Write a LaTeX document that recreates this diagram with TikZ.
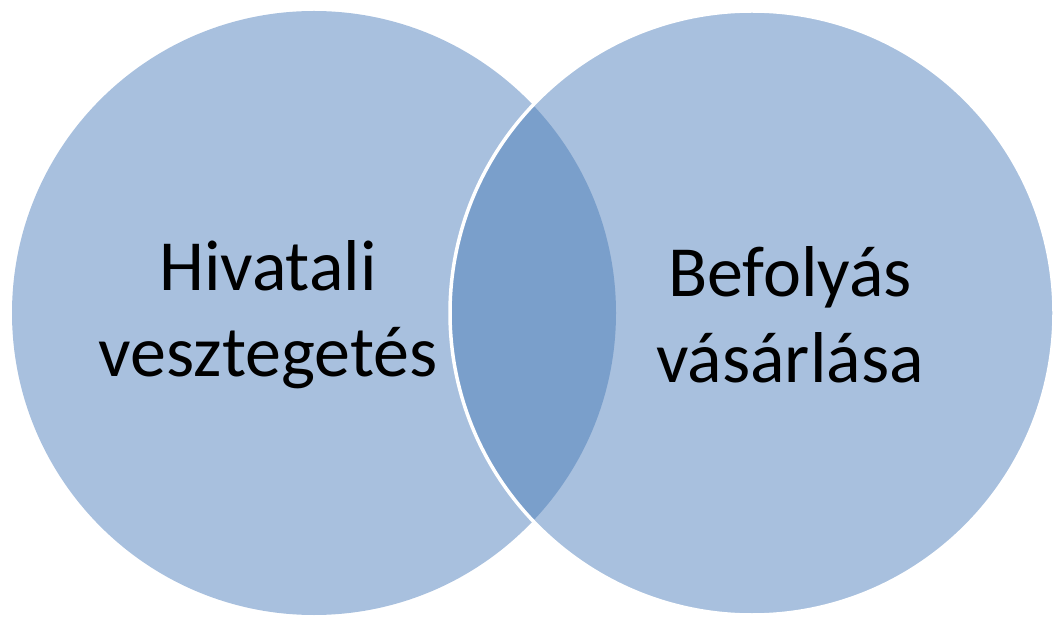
\documentclass[tikz,border=0pt]{standalone}
\usepackage{fontspec}
\setmainfont{Carlito}
\definecolor{circfill}{HTML}{A8C0DE}
\definecolor{lensfill}{HTML}{7A9FCB}
\tikzset{
  venntext/.style={align=center, font=\fontsize{72}{86}\selectfont, text=black, inner sep=0pt},
}
\begin{document}
\begin{tikzpicture}[x=1pt,y=-1pt]
\useasboundingbox (0,0) rectangle (1055,617);
\coordinate (cl) at (314,313);
\coordinate (cr) at (752,313);
\fill[circfill] (cl) circle (302);
\fill[circfill] (cr) circle (302);
\begin{scope}
  \clip (cl) circle (302);
  \fill[lensfill] (cr) circle (302);
\end{scope}
\draw[white, line width=3.5pt] (cr) circle (302);
\node[venntext] (left) at (268,315) {Hivatali\\vesztegetés};
\node[venntext] (right) at (790,315) {Befolyás\\vásárlása};
\end{tikzpicture}
\end{document}
